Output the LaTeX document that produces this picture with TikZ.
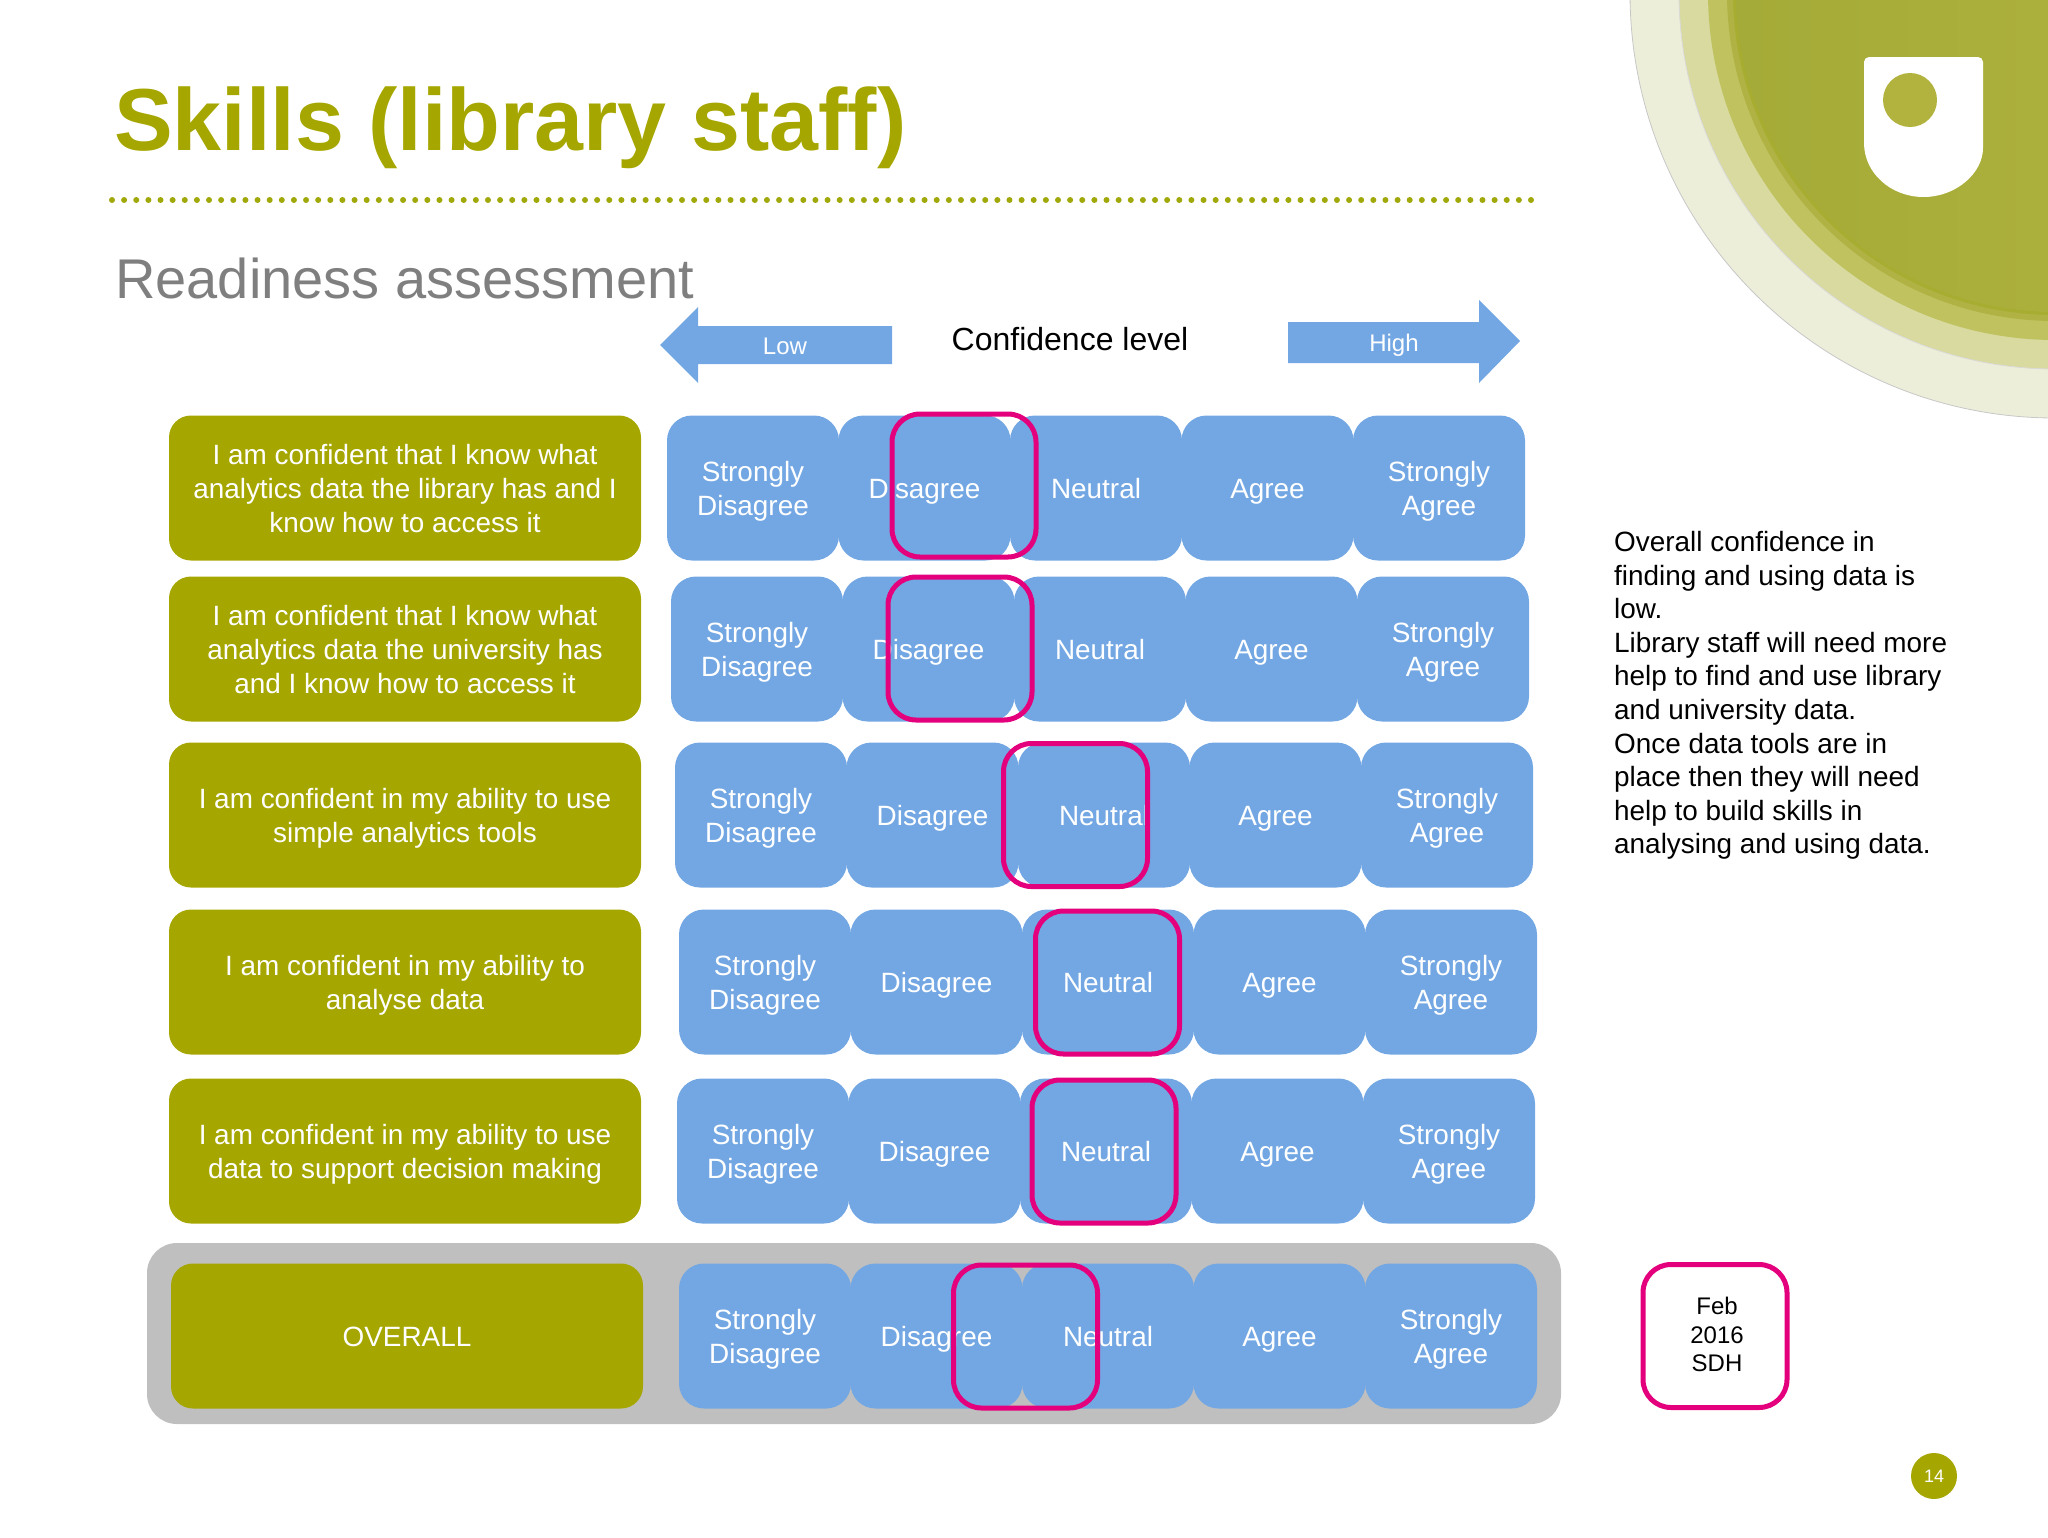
\documentclass[tikz,border=0pt]{standalone}
\usepackage{fontspec}
\setmainfont{Liberation Sans}
\definecolor{olive}{HTML}{A6A600}
\definecolor{dots}{HTML}{A0A80A}
\definecolor{sky}{HTML}{73A7E3}
\definecolor{pinkbox}{HTML}{E4007C}
\definecolor{greyband}{HTML}{BFBFBF}
\definecolor{greytext}{HTML}{7F7F7F}
\definecolor{ringa}{HTML}{EDEED9}
\definecolor{ringb}{HTML}{D9DA9F}
\definecolor{ringc}{HTML}{C0C260}
\definecolor{ringd}{HTML}{B0B244}
\definecolor{ringe}{HTML}{A6AD30}
\definecolor{discA}{HTML}{A5AB38}
\definecolor{discB}{HTML}{B2B33E}
\newcommand{\firstline}{\vrule width 0pt height 31.8pt depth 10.2pt\relax}
\newcommand{\dateline}{\vrule width 0pt height 22.5pt depth 8.5pt\relax}
\tikzset{
  answer/.style={fill=sky,rounded corners=25pt,minimum width=172pt,minimum height=145pt,inner sep=0pt,align=center,text=white,font=\fontsize{27.9}{34}\selectfont},
  statement/.style={fill=olive,rounded corners=22pt,minimum width=472pt,minimum height=145pt,inner sep=0pt,align=center,text=white,font=\fontsize{27.9}{34}\selectfont},
  pickbox/.style={draw=pinkbox,line width=5pt,rounded corners=28pt,inner sep=0pt,minimum width=144pt,minimum height=143pt},
  bluearrow/.style={fill=sky},
  arrowlabel/.style={text=white,inner sep=0pt,font=\fontsize{24}{28}\selectfont},
  notetext/.style={inner sep=0pt,align=left,anchor=north west,font=\fontsize{27.9}{33.6}\selectfont},
}
% #1 row name, #2 left x of the first answer, #3 centre y
\newcommand{\answerrow}[3]{%
  \node[answer] (#1a) at (#2+86,#3) {\firstline Strongly\\\strut Disagree};
  \node[answer] (#1b) at (#2+257.5,#3) {\firstline Disagree};
  \node[answer] (#1c) at (#2+429,#3) {\firstline Neutral};
  \node[answer] (#1d) at (#2+600.5,#3) {\firstline Agree};
  \node[answer] (#1e) at (#2+772,#3) {\firstline Strongly\\\strut Agree};
}
\begin{document}
\begin{tikzpicture}[x=1pt,y=-1pt]
\useasboundingbox (0,0) rectangle (2048,1537);
% decorative rings and logo
\begin{scope}
  \clip (0,0) rectangle (2048,1537);
  \fill[ringa,draw=black!22,line width=0.8pt] (2055,-7) circle[radius=425];
  \fill[ringb,draw=black!15,line width=0.8pt] (2055,-7) circle[radius=376];
  \fill[ringc] (2055,-7) circle[radius=347];
  \fill[ringd] (2055,-7) circle[radius=328];
  \fill[ringe] (2055,-7) circle[radius=322];
  \shade[left color=discA,right color=discB] (2055,-7) circle[radius=319];
\end{scope}
\fill[white,rounded corners=5pt] (1864,143) -- (1864,57) -- (1983,57) -- (1983,143) [sharp corners] arc[start angle=0,end angle=180,x radius=59.5,y radius=54];
\fill[discB] (1910,100) circle[radius=27];
% heading
\node[inner sep=0pt,anchor=base west,text=olive,font=\fontsize{88}{100}\selectfont\bfseries] (title) at (114,150) {Skills (library staff)};
\coordinate (ruleL) at (112,200);
\coordinate (ruleR) at (1531,200);
\draw[dots,line width=6pt,line cap=round,dash pattern=on 0pt off 12.128pt] (ruleL) -- (ruleR);
\node[inner sep=0pt,anchor=base west,text=greytext,font=\fontsize{56}{66}\selectfont] (subtitle) at (115,298) {Readiness assessment};
% confidence header
\fill[bluearrow] (660,345) -- (698,307) -- (698,326) -- (892,326) -- (892,364) -- (698,364) -- (698,383) -- cycle;
\node[arrowlabel] (low) at (785,346) {Low};
\fill[bluearrow] (1288,322) -- (1479,322) -- (1479,300) -- (1520,341) -- (1479,383) -- (1479,363) -- (1288,363) -- cycle;
\node[arrowlabel] (high) at (1394,345) {High};
\node[inner sep=0pt,font=\fontsize{32}{36}\selectfont] (conf) at (1070,339) {Confidence level};
% grey band
\fill[greyband,rounded corners=30pt] (147,1243) rectangle (1561,1424);
% statements
\node[statement] (s1) at (405,488) {\firstline I am confident that I know what\\analytics data the library has and I\\\strut know how to access it};
\node[statement] (s2) at (405,649) {\firstline I am confident that I know what\\analytics data the university has\\\strut and I know how to access it};
\node[statement] (s3) at (405,815) {\firstline I am confident in my ability to use\\\strut simple analytics tools};
\node[statement] (s4) at (405,982) {\firstline I am confident in my ability to\\\strut analyse data};
\node[statement] (s5) at (405,1151) {\firstline I am confident in my ability to use\\\strut data to support decision making};
\node[statement] (s6) at (407,1336) {\firstline OVERALL};
% answers
\answerrow{p}{667}{488}
\answerrow{q}{671}{649}
\answerrow{r}{675}{815}
\answerrow{t}{679}{982}
\answerrow{u}{677}{1151}
\answerrow{v}{679}{1336}
% selections
\node[pickbox] (m1) at (964,485.5) {};
\node[pickbox] (m2) at (960,648.5) {};
\node[pickbox] (m3) at (1075.5,815) {};
\node[pickbox] (m4) at (1107.5,982.5) {};
\node[pickbox] (m5) at (1104,1151.5) {};
\node[pickbox] (m6) at (1025.5,1336.5) {};
\node[pickbox,align=center,font=\fontsize{24}{28.4}\selectfont] (date) at (1715,1336) {\hspace*{4pt}\dateline Feb\\\hspace*{4pt}2016\\\hspace*{4pt}\strut SDH};
% note
\node[notetext] (note) at (1614,531) {Overall confidence in\\finding and using data is\\low.\\Library staff will need more\\help to find and use library\\and university data.\\Once data tools are in\\place then they will need\\help to build skills in\\analysing and using data.};
% page number
\node[circle,fill=olive,minimum size=46pt,inner sep=0pt,text=white,font=\fontsize{18}{22}\selectfont] (page) at (1934,1476) {14};
\end{tikzpicture}
\end{document}
